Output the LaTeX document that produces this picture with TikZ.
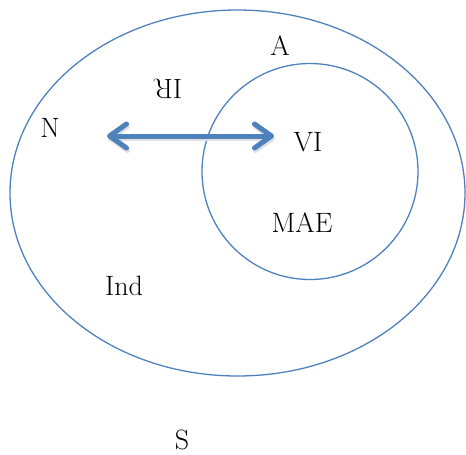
\documentclass[tikz,border=0pt]{standalone}
\usetikzlibrary{arrows.meta,shapes.geometric}
\definecolor{ringblue}{RGB}{79,129,189}

\begin{document}
\begin{tikzpicture}[x=1pt,y=-1pt,
  ring/.style={draw=ringblue,line width=1.3pt,inner sep=0pt},
  lbl/.style={font=\fontsize{28}{32}\selectfont,inner sep=0pt},
  tip/.style={{Straight Barb[length=17pt,width=24pt,round]}-{Straight Barb[length=17pt,width=24pt,round]}}]
\useasboundingbox (0,0) rectangle (466,455);
% sets
\node[ring,ellipse,minimum width=455pt,minimum height=366pt] (s) at (237.5,193) {};
\node[ring,circle,minimum size=216pt] (a) at (310,171.5) {};
% labels
\node[lbl] (la) at (280,46) {A};
\node[lbl,rotate=180] (ir) at (168,89) {IR};
\node[lbl] (n) at (50,128) {N};
\node[lbl] (vi) at (308,142) {VI};
\node[lbl] (mae) at (302,223) {MAE};
\node[lbl] (ind) at (124,286) {Ind};
\node[lbl] (ls) at (182,440) {S};
% arrow
\coordinate (l) at (107,136);
\coordinate (r) at (274,136);
\draw[black!12,line width=5pt,line cap=round,tip] ([shift={(1,2.5)}]l)--([shift={(1,2.5)}]r);
\draw[ringblue,line width=5pt,line cap=round,tip] (l)--(r);
\end{tikzpicture}
\end{document}
